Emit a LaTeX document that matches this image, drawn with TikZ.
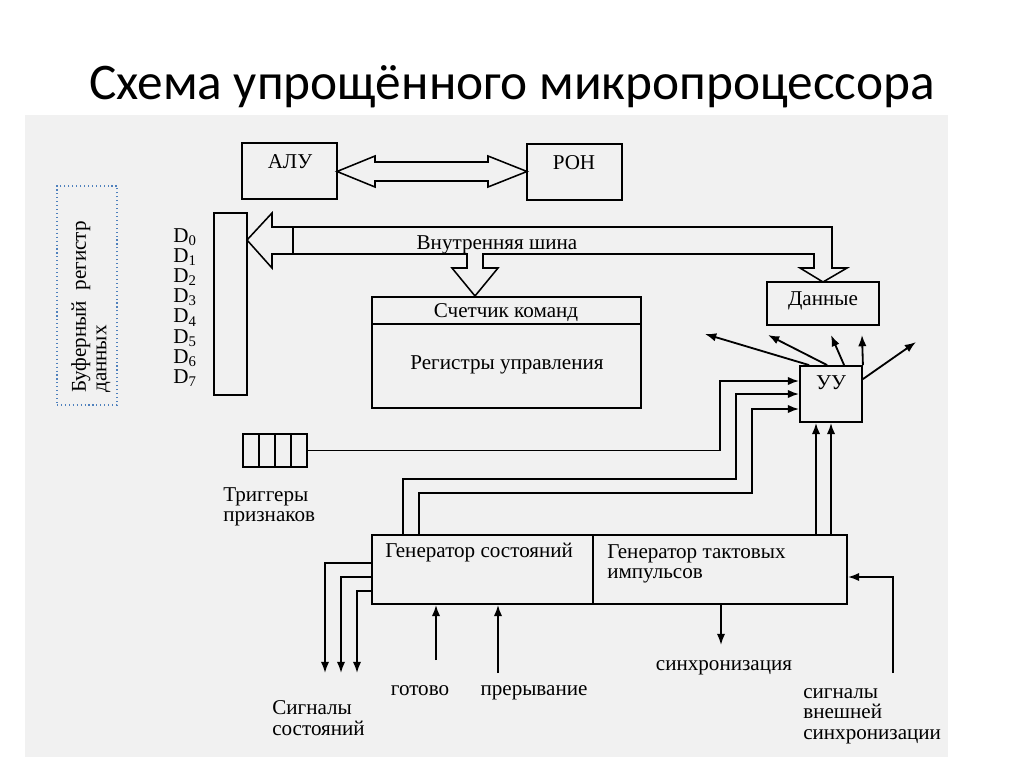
\documentclass[tikz,border=0pt]{standalone}
\usepackage{fontspec}
\setmainfont{Liberation Serif}
\newfontfamily\titlefont{Carlito}
\usetikzlibrary{arrows.meta,positioning,calc}
\definecolor{panelgray}{HTML}{F1F1F1}
\definecolor{dotblue}{HTML}{4F81BD}
\tikzset{
  box/.style={draw, line width=1.3pt, inner sep=0pt, fill=panelgray},
  lbl/.style={font=\fontsize{15}{14.5}\selectfont, inner sep=0pt},
  wire/.style={line width=1.3pt},
  sig/.style={wire, -{Latex[length=8pt,width=6pt]}},
  hollow/.style={line width=1.1pt, line join=miter, fill=panelgray},
}
\begin{document}
\begin{tikzpicture}[x=0.025cm, y=-0.025cm]
  \useasboundingbox (0,0) rectangle (1024,767);
  \fill[panelgray] (25,115) rectangle (948,757);
  \node[font=\titlefont\fontsize{36.5}{36.5}\selectfont, anchor=base] (title) at (512,100) {Схема упрощённого микропроцессора};
  %
  \node[box, minimum width=2.375cm, minimum height=1.4cm] (alu) at (289.5,171) {};
  \node[box, minimum width=2.375cm, minimum height=1.4cm] (ron) at (574.5,172) {};
  \node[box, minimum width=0.825cm, minimum height=4.55cm] (bufbar) at (230.5,304) {};
  \node[box, minimum width=6.725cm, minimum height=2.775cm] (pc) at (506.5,352.5) {};
  \node[box, minimum width=2.8cm, minimum height=1.075cm] (data) at (823,303.5) {};
  \node[box, minimum width=1.55cm, minimum height=1.4cm] (uu) at (831,394) {};
  \node[box, minimum width=11.875cm, minimum height=1.725cm] (gen) at (609.5,569.5) {};
  \node[box, minimum width=1.6cm, minimum height=0.825cm] (trig) at (275,450.5) {};
  \node[draw=dotblue, dotted, line width=0.8pt, minimum width=1.5cm, minimum height=5.475cm] (bufnote) at (87,295.5) {};
  %
  \draw[wire] (pc.west |- 0,324) -- (pc.east |- 0,324);
  \draw[wire] (gen.north -| 593,0) -- (gen.south -| 593,0);
  \foreach \x in {259,275,291}
    \draw[wire] (trig.north -| \x,0) -- (trig.south -| \x,0);
  %
  \node[lbl] at (290,162) {АЛУ};
  \node[lbl] at (574,163) {РОН};
  \node[lbl] at (506,313) {Счетчик команд};
  \node[lbl] at (507,365) {Регистры управления};
  \node[lbl] at (823,301) {Данные};
  \node[lbl] at (831,383) {УУ};
  \node[lbl, anchor=west] at (385,553) {Генератор состояний};
  \node[lbl, anchor=west, align=left] at (607,564) {Генератор тактовых\\импульсов};
  \node[lbl, anchor=west, align=left] at (223,507) {Триггеры\\признаков};
  \node[lbl, rotate=90, anchor=north west, align=left] at (71,393) {Буферный\ \ регистр\\данных};
  \foreach \i in {0,...,7}
    \node[lbl, anchor=west] (d\i) at (173,{237+20.15*\i}) {D\textsubscript{\i}};
  %
  % hollow buses
  \draw[hollow] (337,171.5) -- (375,156) -- (375,162) -- (488,162) -- (488,156) -- (527,171.5)
    -- (488,187) -- (488,181) -- (375,181) -- (375,187) -- cycle;
  \draw[hollow] (247,240) -- (272,213) -- (272,227) -- (832,227) -- (832,268) -- (847,268)
    -- (823,282) -- (800,268) -- (814,268) -- (814,254) -- (483,254) -- (483,268) -- (498,268)
    -- (475,296) -- (452,268) -- (467,268) -- (467,254) -- (272,254) -- (272,268) -- cycle;
  \draw[hollow] (293,227) -- (293,254);
  \node[lbl, anchor=base] (busname) at (497,250) {Внутренняя шина};
  %
  % control unit outputs
  \coordinate (o1) at (705,334);
  \coordinate (o2) at (768,335);
  \coordinate (o3) at (831,335);
  \coordinate (o4) at (862,335);
  \coordinate (o5) at (916,342);
  \draw[sig] ($(uu.north west)+(10,0)$) -- (o1);
  \draw[sig] ($(uu.north west)+(28,0)$) -- (o2);
  \draw[sig] ($(uu.north west)+(45,0)$) -- (o3);
  \draw[sig] (uu.north east) -- (o4);
  \draw[sig] ($(uu.north east)+(0,14)$) -- (o5);
  %
  % control unit inputs
  \draw[sig] (trig.east) -| (720,381) -- (uu.west |- 0,381);
  \draw[sig] (gen.north -| 403,0) |- (736,479) |- (uu.west |- 0,394);
  \draw[sig] (gen.north -| 419,0) |- (752,493) |- (uu.west |- 0,409);
  \draw[sig, {Latex[length=8pt,width=6pt]}-] (uu.south -| 816,0) -- (gen.north -| 816,0);
  \draw[sig, {Latex[length=8pt,width=6pt]}-] (uu.south -| 831,0) -- (gen.north -| 831,0);
  %
  % generator signals
  \coordinate (s1) at (325,673);
  \coordinate (s2) at (341,673);
  \coordinate (s3) at (357,673);
  \draw[sig] (gen.west |- 0,563) -| (s1);
  \draw[sig] (gen.west |- 0,577) -| (s2);
  \draw[sig] (gen.west |- 0,591) -| (s3);
  \coordinate (rdy) at (436,660);
  \coordinate (irq) at (498,673);
  \coordinate (syn) at (721,645);
  \coordinate (ext) at (893,673);
  \draw[sig] (rdy) -- (gen.south -| rdy);
  \draw[sig] (irq) -- (gen.south -| irq);
  \draw[sig] (gen.south -| syn) -- (syn);
  \draw[sig] (ext) |- (gen.east |- 0,577);
  %
  \node[lbl, anchor=west, align=left] at (272,718) {Сигналы\\состояний};
  \node[lbl, anchor=base] at (420,695) {готово};
  \node[lbl, anchor=base] at (534,695) {прерывание};
  \node[lbl, anchor=base] at (724,670) {синхронизация};
  \node[lbl, anchor=west, align=left] at (803,716) {сигналы\\внешней\\синхронизации};
\end{tikzpicture}
\end{document}
